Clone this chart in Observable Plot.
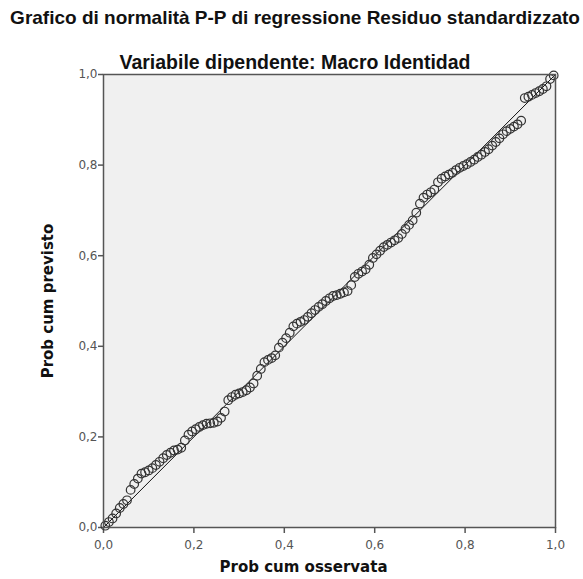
<!DOCTYPE html>
<html>
<head>
<meta charset="utf-8">
<script src="https://cdn.jsdelivr.net/npm/d3@7"></script>
<script src="https://cdn.jsdelivr.net/npm/@observablehq/plot@0.6"></script>
<style>
  html, body { margin: 0; padding: 0; background: #fff; }
  #wrap { position: relative; width: 583px; height: 579px; overflow: hidden; }
  .ttl { position: absolute; left: 0; width: 590px; text-align: center; font-family: "Liberation Sans", Arial, sans-serif; font-weight: bold; font-size: 19px; line-height: 22px; color: #111; white-space: nowrap; }
  #t2 { font-size: 19.5px; }
  #chart svg { position: absolute; left: 0; top: 0; }
</style>
</head>
<body>
<div id="wrap">
  <div id="chart"></div>
  <div class="ttl" id="t1" style="top:7px;"></div>
  <div class="ttl" id="t2" style="top:51px;"></div>
</div>
<script>
const title = "Grafico di normalità P-P di regressione Residuo standardizzato";
const subtitle = "Variabile dipendente: Macro Identidad";
const xLabel = "Prob cum osservata";
const yLabel = "Prob cum previsto";
const tickValues = [0, 0.2, 0.4, 0.6, 0.8, 1.0];
const tickLabels = ["0,0", "0,2", "0,4", "0,6", "0,8", "1,0"];

// observed cumulative probability
const obs = [0.004,0.012,0.020,0.028,0.036,0.044,0.052,0.060,0.068,0.076,0.084,0.092,0.100,0.108,0.116,0.124,0.132,0.140,0.148,0.156,0.164,0.172,0.180,0.188,0.196,0.204,0.212,0.220,0.228,0.236,0.244,0.252,0.260,0.268,0.276,0.284,0.292,0.300,0.308,0.316,0.324,0.332,0.340,0.348,0.356,0.364,0.372,0.380,0.388,0.396,0.404,0.412,0.420,0.428,0.436,0.444,0.452,0.460,0.468,0.476,0.484,0.492,0.500,0.508,0.516,0.524,0.532,0.540,0.548,0.556,0.564,0.572,0.580,0.588,0.596,0.604,0.612,0.620,0.628,0.636,0.644,0.652,0.660,0.668,0.676,0.684,0.692,0.700,0.708,0.716,0.724,0.732,0.740,0.748,0.756,0.764,0.772,0.780,0.788,0.796,0.804,0.812,0.820,0.828,0.836,0.844,0.852,0.860,0.868,0.876,0.884,0.892,0.900,0.908,0.916,0.924,0.932,0.940,0.948,0.956,0.964,0.972,0.980,0.988,0.996];
// expected cumulative probability
const exp = [0.004,0.012,0.020,0.031,0.043,0.052,0.060,0.083,0.096,0.108,0.119,0.122,0.126,0.131,0.138,0.145,0.153,0.160,0.165,0.170,0.172,0.176,0.192,0.205,0.212,0.217,0.222,0.226,0.229,0.230,0.231,0.234,0.242,0.256,0.281,0.288,0.293,0.296,0.299,0.303,0.309,0.318,0.335,0.350,0.365,0.370,0.374,0.380,0.397,0.408,0.418,0.430,0.444,0.450,0.454,0.458,0.465,0.473,0.480,0.487,0.493,0.500,0.506,0.511,0.513,0.516,0.519,0.522,0.535,0.553,0.560,0.565,0.570,0.580,0.595,0.603,0.611,0.619,0.624,0.629,0.634,0.639,0.648,0.659,0.668,0.678,0.695,0.715,0.728,0.735,0.740,0.746,0.762,0.770,0.775,0.779,0.783,0.789,0.794,0.798,0.802,0.807,0.812,0.818,0.823,0.829,0.835,0.843,0.851,0.859,0.868,0.875,0.880,0.885,0.890,0.898,0.948,0.951,0.955,0.959,0.963,0.968,0.974,0.990,0.998];

const refLine = [0, 1];

document.getElementById("t1").textContent = title;
document.getElementById("t2").textContent = subtitle;

const points = obs.map((o, i) => ({obs: o, exp: exp[i]}));
const labelFont = {fontFamily: "DejaVu Sans, sans-serif", fontWeight: "bold", fontSize: 15, fill: "#111", textAnchor: "middle"};

const plot = Plot.plot({
  width: 583,
  height: 579,
  marginTop: 74,
  marginBottom: 52,
  marginLeft: 103,
  marginRight: 28,
  x: {domain: [0, 1], label: null},
  y: {domain: [0, 1], label: null},
  style: {background: "transparent", fontFamily: "DejaVu Sans, sans-serif", fontSize: "12px", color: "#555"},
  marks: [
    Plot.frame({fill: "#f0f0f0", stroke: null}),
    Plot.axisX({ticks: tickValues, tickFormat: (d, i) => tickLabels[i], tickSize: 6, tickPadding: 7, stroke: "#555", strokeWidth: 1.5, label: null}),
    Plot.axisY({ticks: tickValues, tickFormat: (d, i) => tickLabels[i], tickSize: 5, tickPadding: 1, stroke: "#555", strokeWidth: 1.5, label: null}),
    Plot.text([xLabel], {frameAnchor: "bottom", text: d => d, dx: -26, dy: 44, ...labelFont}),
    Plot.text([yLabel], {frameAnchor: "left", text: d => d, rotate: -90, dx: -55, ...labelFont}),
    Plot.line(refLine, {x: d => d, y: d => d, stroke: "#111", strokeWidth: 1}),
    Plot.dot(points, {x: "obs", y: "exp", r: 4.3, stroke: "#333", strokeWidth: 1.2, fill: "none"}),
    Plot.frame({stroke: "#555", strokeWidth: 1.5})
  ]
});
document.getElementById("chart").appendChild(plot);
</script>
</body>
</html>
